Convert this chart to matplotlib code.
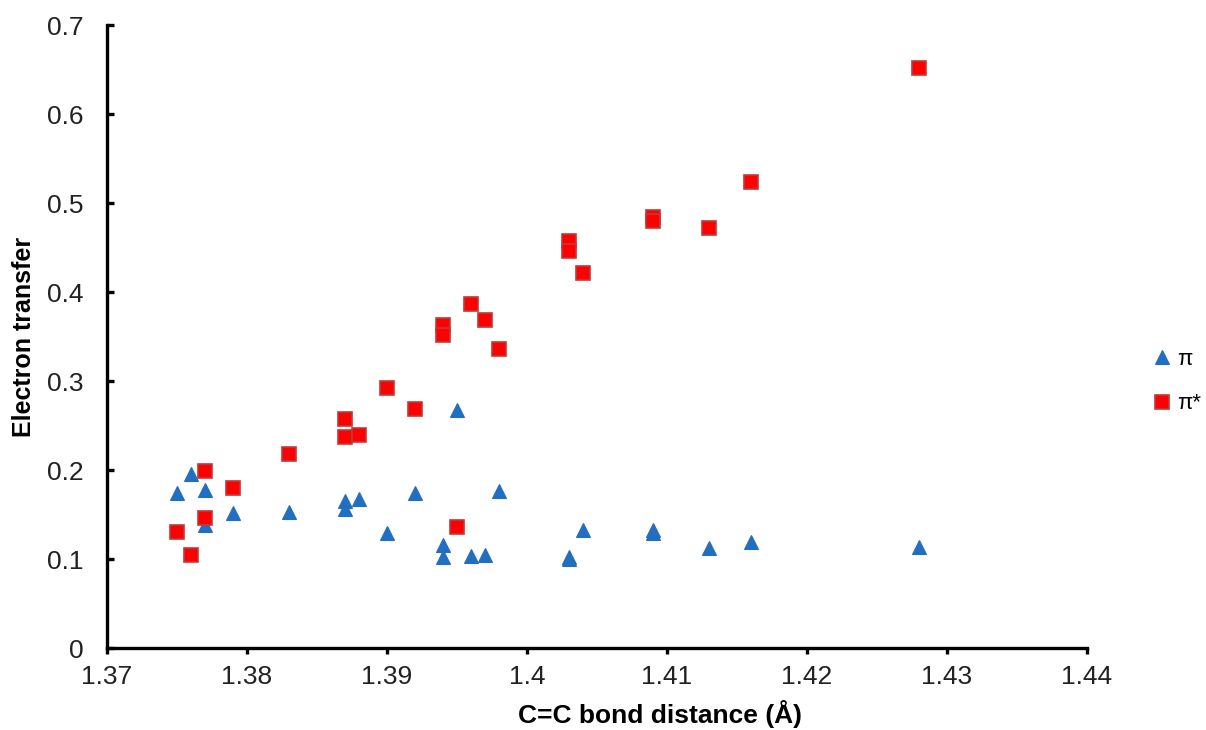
import numpy as np
import matplotlib
matplotlib.use("Agg")
import matplotlib.pyplot as plt

plt.rcParams['font.family'] = ['Liberation Sans', 'DejaVu Sans']

# C=C bond distances (Å), shared by both orbital series
bond_dist = [1.375, 1.376, 1.377, 1.377, 1.379, 1.383, 1.387, 1.387, 1.388, 1.390,
             1.392, 1.394, 1.394, 1.395, 1.396, 1.397, 1.398, 1.403, 1.403, 1.404,
             1.409, 1.409, 1.413, 1.416, 1.428]

# electron transfer into pi / pi* orbitals
et_pi = [0.174, 0.196, 0.177, 0.138, 0.152, 0.153, 0.165, 0.156, 0.168, 0.129,
         0.174, 0.116, 0.102, 0.268, 0.103, 0.104, 0.176, 0.102, 0.100, 0.133,
         0.133, 0.129, 0.112, 0.119, 0.113]
et_pistar = [0.130, 0.105, 0.199, 0.146, 0.180, 0.218, 0.257, 0.237, 0.239, 0.292,
             0.269, 0.363, 0.352, 0.136, 0.387, 0.369, 0.336, 0.457, 0.446, 0.421,
             0.484, 0.480, 0.472, 0.524, 0.652]

x_ticks = [1.37, 1.38, 1.39, 1.40, 1.41, 1.42, 1.43, 1.44]
x_ticklabels = ['1.37', '1.38', '1.39', '1.4', '1.41', '1.42', '1.43', '1.44']
y_ticks = [0, 0.1, 0.2, 0.3, 0.4, 0.5, 0.6, 0.7]
y_ticklabels = ['0', '0.1', '0.2', '0.3', '0.4', '0.5', '0.6', '0.7']

fig = plt.figure(figsize=(12.06, 7.30), dpi=100)
ax = fig.add_axes([0.0887, 0.1123, 0.8126, 0.8534])

ax.plot(bond_dist, et_pi, linestyle='none', marker='^', markersize=10,
        color='#1f6fc3', markeredgecolor='#2a6db5', markeredgewidth=0.8,
        label='\u03c0', zorder=3)
ax.plot(bond_dist, et_pistar, linestyle='none', marker='s', markersize=9.5,
        color='#ff0000', markeredgecolor='#c03a3a', markeredgewidth=1.2,
        label='\u03c0*', zorder=4)

ax.set_xlim(1.37, 1.44)
ax.set_ylim(0, 0.7)
ax.set_xticks(x_ticks)
ax.set_xticklabels(x_ticklabels)
ax.set_yticks(y_ticks)
ax.set_yticklabels(y_ticklabels)

for side in ['top', 'right']:
    ax.spines[side].set_visible(False)
for side in ['left', 'bottom']:
    ax.spines[side].set_linewidth(2.4)
    ax.spines[side].set_color('black')

ax.tick_params(axis='y', direction='in', length=5, width=2.4, pad=17,
               labelsize=19, labelcolor='#222222')
ax.tick_params(axis='x', direction='out', length=4, width=2.4, pad=8,
               labelsize=19, labelcolor='#222222')

ax.set_xlabel('C=C bond distance (Å)', fontsize=19, fontweight='bold', va='center')
ax.set_ylabel('Electron transfer', fontsize=18, fontweight='bold', va='center', ha='center')
ax.xaxis.set_label_coords(0.5645, -0.106)
ax.yaxis.set_label_coords(-0.0847, 0.5)

fig.legend(loc='center left', bbox_to_anchor=(0.957, 0.477), frameon=False,
           fontsize=16, handlelength=0.75, handletextpad=0.3, labelspacing=1.05,
           borderpad=0, borderaxespad=0)

fig.savefig('out.png', dpi=100)
